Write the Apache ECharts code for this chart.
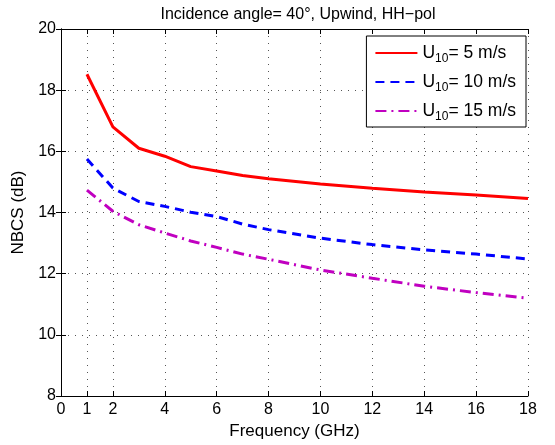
<!DOCTYPE html>
<html><head><meta charset="utf-8">
<script src="https://cdn.jsdelivr.net/npm/echarts@6/dist/echarts.min.js"></script>
<style>html,body{margin:0;padding:0;background:#fff}#c{width:555px;height:445px}</style>
</head><body><div id="c"></div>
<script>
var freq = [1, 2, 3, 4, 5, 6, 7, 8, 10, 12, 14, 16, 18];
var u5 = [18.52, 16.8, 16.1, 15.84, 15.5, 15.36, 15.21, 15.1, 14.93, 14.79, 14.67, 14.57, 14.46];
var u10 = [15.75, 14.8, 14.36, 14.2, 14.01, 13.87, 13.62, 13.44, 13.16, 12.95, 12.78, 12.64, 12.48];
var u15 = [14.73, 14.04, 13.6, 13.33, 13.07, 12.86, 12.64, 12.47, 12.12, 11.85, 11.59, 11.38, 11.2];
var xTicks = [0, 1, 2, 4, 6, 8, 10, 12, 14, 16, 18];
var names = ['U{s|10}= 5 m/s', 'U{s|10}= 10 m/s', 'U{s|10}= 15 m/s'];

function pairs(v){ return freq.map(function(f,i){ return [f, v[i]]; }); }
var font = 'Liberation Sans, Arial, sans-serif';
function gs(){ return {show:true, lineStyle:{color:'#555', type:[1,6], dashOffset:0, width:1}}; }
var chart = echarts.init(document.getElementById('c'));
chart.setOption({
  animation:false,
  backgroundColor:'#fff',
  title:{text:'Incidence angle= 40°, Upwind, HH\u2212pol', left:293, top:2, textAlign:'center',
    textStyle:{fontFamily:font, fontSize:16, fontWeight:'normal', color:'#000'}},
  grid:{left:61, right:27, top:29, bottom:48},
  legend:{right:29, top:36, orient:'vertical', backgroundColor:'#fff', borderColor:'#000', borderWidth:1,
    borderRadius:0, padding:[8,10,4,8], itemGap:8, itemWidth:42, itemHeight:14,
    itemStyle:{opacity:0},
    textStyle:{fontFamily:font, fontSize:17.5, color:'#000', rich:{s:{fontSize:12, verticalAlign:'bottom', padding:[12,0,0,0], fontFamily:font}}}},
  xAxis:[{type:'value', min:0, max:18, interval:1, position:'bottom',
    name:'Frequency (GHz)', nameLocation:'middle', nameGap:27,
    nameTextStyle:{fontFamily:font, fontSize:17, color:'#000'},
    axisLine:{lineStyle:{color:'#000', width:1}},
    axisTick:{inside:true, length:5, customValues:xTicks, lineStyle:{color:'#000'}},
    axisLabel:{customValues:xTicks, fontFamily:font, fontSize:16, color:'#000', margin:6},
    splitLine:gs()},
   {type:'value', min:0, max:18, interval:1, position:'top',
    axisLine:{show:true, lineStyle:{color:'#000', width:1}},
    axisTick:{inside:true, length:5, customValues:xTicks, lineStyle:{color:'#000'}},
    axisLabel:{show:false}, splitLine:{show:false}}],
  yAxis:[{type:'value', min:8, max:20, interval:2, position:'left',
    name:'NBCS (dB)', nameLocation:'middle', nameGap:29,
    nameTextStyle:{fontFamily:font, fontSize:17, color:'#000'},
    axisLine:{show:true, lineStyle:{color:'#000', width:1}},
    axisTick:{show:true, inside:true, length:5, lineStyle:{color:'#000'}},
    axisLabel:{fontFamily:font, fontSize:16, color:'#000', margin:5},
    splitLine:gs()},
   {type:'value', min:8, max:20, interval:2, position:'right',
    axisLine:{show:true, lineStyle:{color:'#000', width:1}},
    axisTick:{show:true, inside:true, length:5, lineStyle:{color:'#000'}},
    axisLabel:{show:false}, splitLine:{show:false}}],
  series:[
    {name:names[0], type:'line', data:pairs(u5), symbol:'none', color:'#ff0000',
      lineStyle:{color:'#ff0000', width:3}},
    {name:names[1], type:'line', data:pairs(u10), symbol:'none', color:'#0000ff',
      lineStyle:{color:'#0000ff', width:3, type:[9,6]}},
    {name:names[2], type:'line', data:pairs(u15), symbol:'none', color:'#c000c0',
      lineStyle:{color:'#c000c0', width:3, type:[11,5,2,5]}}
  ]
});
</script></body></html>
